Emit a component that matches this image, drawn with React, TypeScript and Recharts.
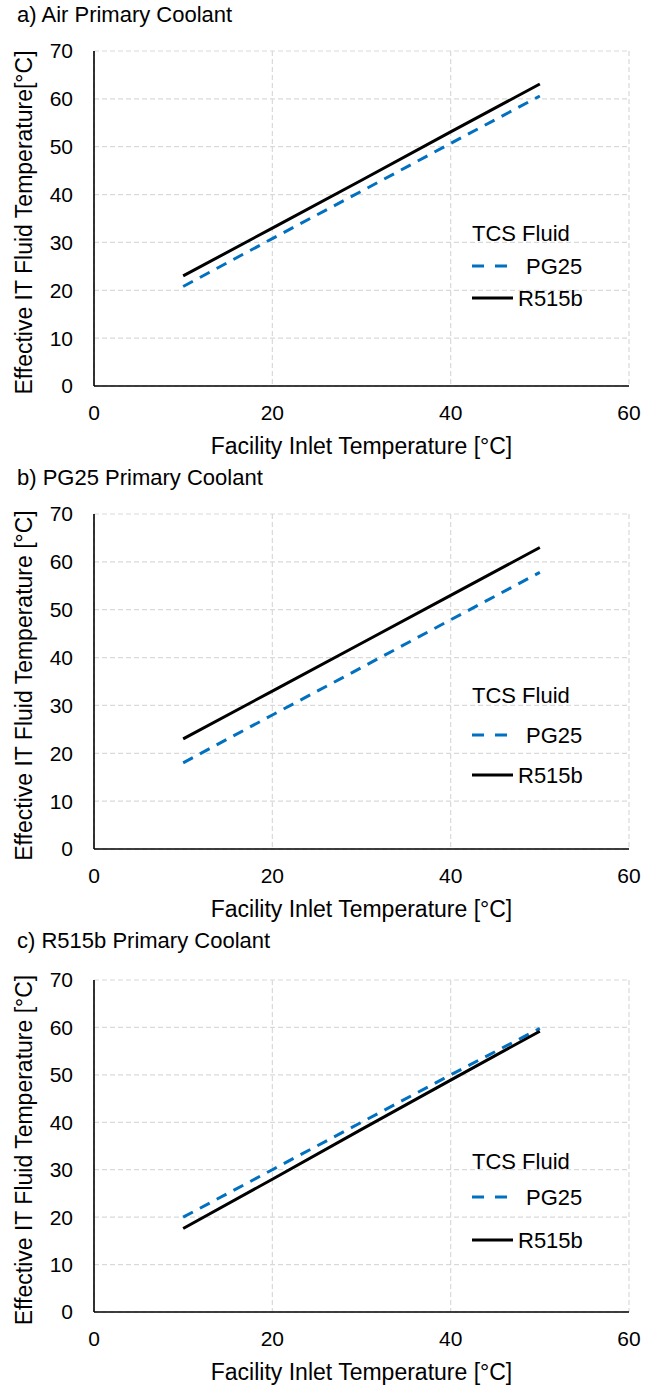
import React from 'react';
import { LineChart, Line, XAxis, YAxis, CartesianGrid, Legend } from 'recharts';

const facilityInlet = [10, 20, 30, 40, 50];

const airPG25 = [20.8, 30.8, 40.7, 50.7, 60.6];
const airR515b = [23.0, 33.0, 43.0, 53.1, 63.1];

const pg25PG25 = [18.0, 28.0, 37.9, 47.9, 57.8];
const pg25R515b = [23.0, 33.0, 43.0, 53.0, 63.0];

const r515bPG25 = [20.0, 30.0, 40.0, 50.0, 59.8];
const r515bR515b = [17.6, 28.0, 38.5, 48.9, 59.2];

const xTicks = [0, 20, 40, 60];
const yTicks = [0, 10, 20, 30, 40, 50, 60, 70];

const FONT = '"Liberation Sans", Arial, sans-serif';
const W = 668;
const H = 463;
const BLUE = '#0070C0';

const buildRows = (pg: number[], r: number[]) =>
  facilityInlet.map((x, i) => ({ x, PG25: pg[i], R515b: r[i] }));

// legend drawn inside the plot, like the Excel one
const makeLegend = (rows: number[]) => (props: any) => {
  const payload = props.payload || [];
  return (
    <svg width={170} height={110} style={{ display: 'block', overflow: 'visible' }}>
      <text x={0} y={rows[0]} dominantBaseline="central" fontSize={22} fontFamily={FONT} fill="#000">
        TCS Fluid
      </text>
      {payload.map((entry: any, i: number) => {
        const dashed = entry.value === 'PG25';
        const y = rows[i + 1];
        return (
          <g key={entry.value}>
            <line
              x1={0}
              x2={dashed ? 35 : 41}
              y1={y}
              y2={y}
              stroke={entry.color}
              strokeWidth={3}
              strokeDasharray={dashed ? '12 11' : undefined}
            />
            <text x={dashed ? 54 : 46} y={y} dominantBaseline="central" fontSize={22} fontFamily={FONT} fill="#000">
              {entry.value}
            </text>
          </g>
        );
      })}
    </svg>
  );
};

interface PanelProps {
  title: string;
  yLabel: string;
  pg: number[];
  r: number[];
  top: number;
  legendRows: number[];
}

const Panel: React.FC<PanelProps> = ({ title, yLabel, pg, r, top, legendRows }) => {
  const data = buildRows(pg, r);
  return (
    <div style={{ position: 'relative', width: W, height: H }}>
      <LineChart
        width={W}
        height={H}
        data={data}
        margin={{ top, right: 39, bottom: 17, left: 0 }}
        style={{ position: 'absolute', left: 0, top: 0 }}
      >
        <CartesianGrid stroke="#d9d9d9" strokeDasharray="5 3" strokeWidth={1.2} />
        <XAxis
          dataKey="x"
          type="number"
          domain={[0, 60]}
          ticks={xTicks}
          tickLine={false}
          tickSize={0}
          tickMargin={19}
          height={60}
          axisLine={{ stroke: '#000', strokeWidth: 1.6 }}
          tick={{ fontSize: 21, fill: '#000', fontFamily: FONT }}
          label={{
            content: (p: any) => {
              const vb = p.viewBox;
              return (
                <text
                  x={vb.x + vb.width / 2}
                  y={446}
                  textAnchor="middle"
                  dominantBaseline="central"
                  fontSize={23}
                  fontFamily={FONT}
                  fill="#000"
                >
                  Facility Inlet Temperature [°C]
                </text>
              );
            },
          }}
        />
        <YAxis
          type="number"
          domain={[0, 70]}
          ticks={yTicks}
          width={94}
          tickLine={false}
          tickSize={0}
          tickMargin={21}
          axisLine={{ stroke: '#000', strokeWidth: 1.6 }}
          tick={{ fontSize: 21, fill: '#000', fontFamily: FONT }}
          label={{
            content: (p: any) => {
              const vb = p.viewBox;
              const cy = vb.y + vb.height / 2 + 4;
              return (
                <text
                  x={24}
                  y={cy}
                  transform={`rotate(-90, 24, ${cy})`}
                  textAnchor="middle"
                  dominantBaseline="central"
                  fontSize={23}
                  fontFamily={FONT}
                  fill="#000"
                >
                  {yLabel}
                </text>
              );
            },
          }}
        />
        <Legend
          layout="horizontal"
          verticalAlign="middle"
          align="center"
          content={makeLegend(legendRows)}
          wrapperStyle={{ position: 'absolute', left: 472, top: 0, width: 170, height: 110 }}
        />
        <Line
          type="linear"
          dataKey="PG25"
          name="PG25"
          stroke={BLUE}
          strokeWidth={3}
          strokeDasharray="11 8"
          dot={false}
          activeDot={false}
          isAnimationActive={false}
        />
        <Line
          type="linear"
          dataKey="R515b"
          name="R515b"
          stroke="#000"
          strokeWidth={3}
          dot={false}
          activeDot={false}
          isAnimationActive={false}
        />
      </LineChart>
      <div
        style={{
          position: 'absolute',
          left: 17,
          top: 1,
          fontFamily: FONT,
          fontSize: 22,
          lineHeight: '28px',
          color: '#000',
          whiteSpace: 'nowrap',
        }}
      >
        {title}
      </div>
    </div>
  );
};

export default function App() {
  return (
    <div style={{ position: 'absolute', left: 0, top: 0, width: W, background: '#fff' }}>
      <Panel
        title="a) Air Primary Coolant"
        yLabel="Effective IT Fluid Temperature[°C]"
        pg={airPG25}
        r={airR515b}
        top={51}
        legendRows={[233, 266, 298]}
      />
      <Panel
        title="b) PG25 Primary Coolant"
        yLabel="Effective IT Fluid Temperature [°C]"
        pg={pg25PG25}
        r={pg25R515b}
        top={51}
        legendRows={[232, 272, 312]}
      />
      <Panel
        title="c) R515b Primary Coolant"
        yLabel="Effective IT Fluid Temperature [°C]"
        pg={r515bPG25}
        r={r515bR515b}
        top={54}
        legendRows={[235, 271, 314]}
      />
    </div>
  );
}
